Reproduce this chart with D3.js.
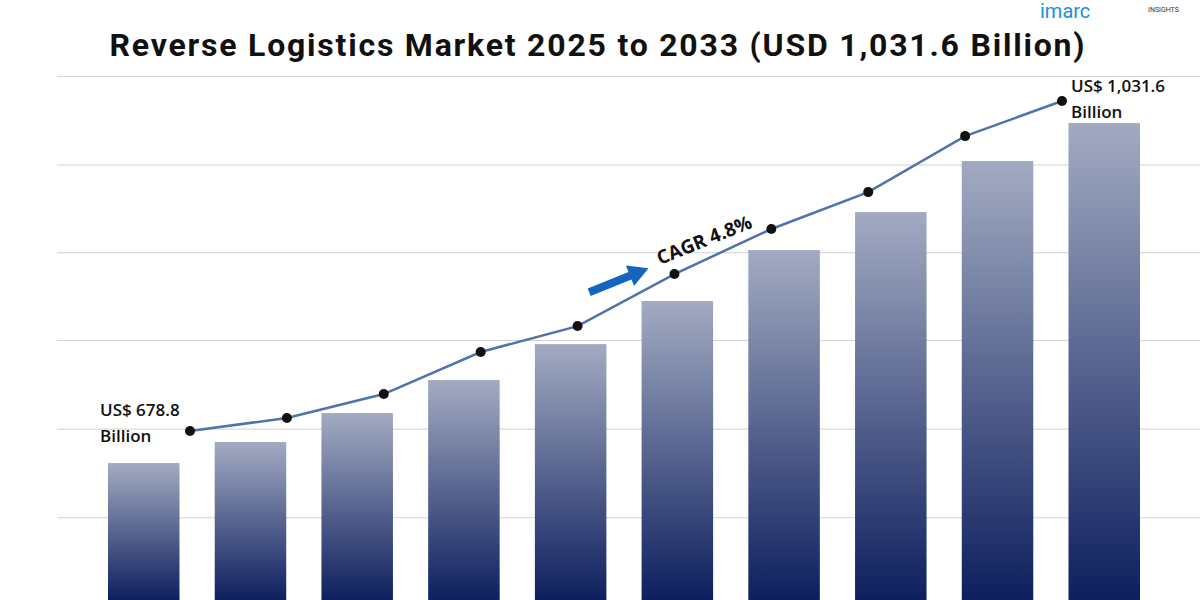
<!DOCTYPE html>
<html><head><meta charset="utf-8">
<script src="https://cdn.jsdelivr.net/npm/d3@7"></script>
<style>body{margin:0;background:#fff}</style></head>
<body><svg id="c" width="1200" height="600"></svg>
<script>
const years = ["2025","2026","2027","2028","2029","2030","2031","2032","2033","2034"];
const values = [678.8,700.6,730.7,764.9,802.2,846.9,899.8,939.2,992.1,1031.6];
const lineValues = [712,725.6,750.4,794,820.9,874.9,921.6,959.9,1018,1054.4];
const gridValues = [1080,988,897,806,714,622];
const title = "Reverse Logistics Market 2025 to 2033 (USD 1,031.6 Billion)";

const svg = d3.select("#c");
const y = d3.scaleLinear().domain([541.9,1031.6]).range([595,123]);
const x = d3.scaleBand().domain(years).range([108,1140]).paddingInner(0.33).paddingOuter(0);
const xl = d3.scalePoint().domain(years).range([190,1062]);

const defs = svg.append("defs");
const g = defs.append("linearGradient").attr("id","bg").attr("x1",0).attr("y1",0).attr("x2",0).attr("y2",1);
g.append("stop").attr("offset","0%").attr("stop-color","#a3abc2");
g.append("stop").attr("offset","100%").attr("stop-color","#0e1f5e");

svg.selectAll(".grid").data(gridValues).enter().append("line")
 .attr("x1",57).attr("x2",1200).attr("y1",d=>y(d)).attr("y2",d=>y(d))
 .attr("stroke","#d0d0d0").attr("stroke-width",1);

svg.selectAll(".bar").data(values).enter().append("rect")
 .attr("x",(d,i)=>x(years[i])).attr("width",x.bandwidth())
 .attr("y",d=>y(d)).attr("height",d=>600-y(d)).attr("fill","url(#bg)");

const line = d3.line().x((d,i)=>xl(years[i])).y(d=>y(d));
svg.append("path").datum(lineValues).attr("d",line).attr("fill","none").attr("stroke","#4f73aa").attr("stroke-width",2.5);
svg.selectAll(".pt").data(lineValues).enter().append("circle")
 .attr("cx",(d,i)=>xl(years[i])).attr("cy",d=>y(d)).attr("r",5).attr("fill","#111");

svg.append("text").attr("x",597).attr("y",56).attr("text-anchor","middle").attr("textLength",975)
 .attr("font-family","Roboto, 'Open Sans', sans-serif").attr("font-weight","bold").attr("font-size",32).attr("fill","#111").text(title);

const lab = (tx,ty,lines)=>{const t=svg.append("text").attr("font-family","'Open Sans',sans-serif").attr("font-weight","600").attr("font-size",17).attr("fill","#111");
 lines.forEach((l,i)=>t.append("tspan").attr("x",tx).attr("y",ty+i*26).text(l));};
lab(100,416,["US$ 678.8","Billion"]);
lab(1071,92,["US$ 1,031.6","Billion"]);

const a = svg.append("g").attr("transform","translate(617,281) rotate(-22)");
a.append("rect").attr("x",-30).attr("y",-4).attr("width",46).attr("height",8).attr("fill","#1565c0");
a.append("path").attr("d","M14,-11 L34,0 L14,11 Z").attr("fill","#1565c0");
svg.append("text").attr("transform","translate(660,265) rotate(-22)")
 .attr("font-family","'Open Sans',sans-serif").attr("font-weight","bold").attr("font-size",19).attr("fill","#111").text("CAGR 4.8%");

svg.append("text").attr("x",1040).attr("y",18).attr("font-family","Roboto,sans-serif").attr("font-size",20).attr("fill","#1e90d8").text("imarc");
svg.append("text").attr("x",1148).attr("y",12).attr("font-family","Roboto,sans-serif").attr("font-size",7).attr("fill","#333").text("INSIGHTS");
</script></body></html>
